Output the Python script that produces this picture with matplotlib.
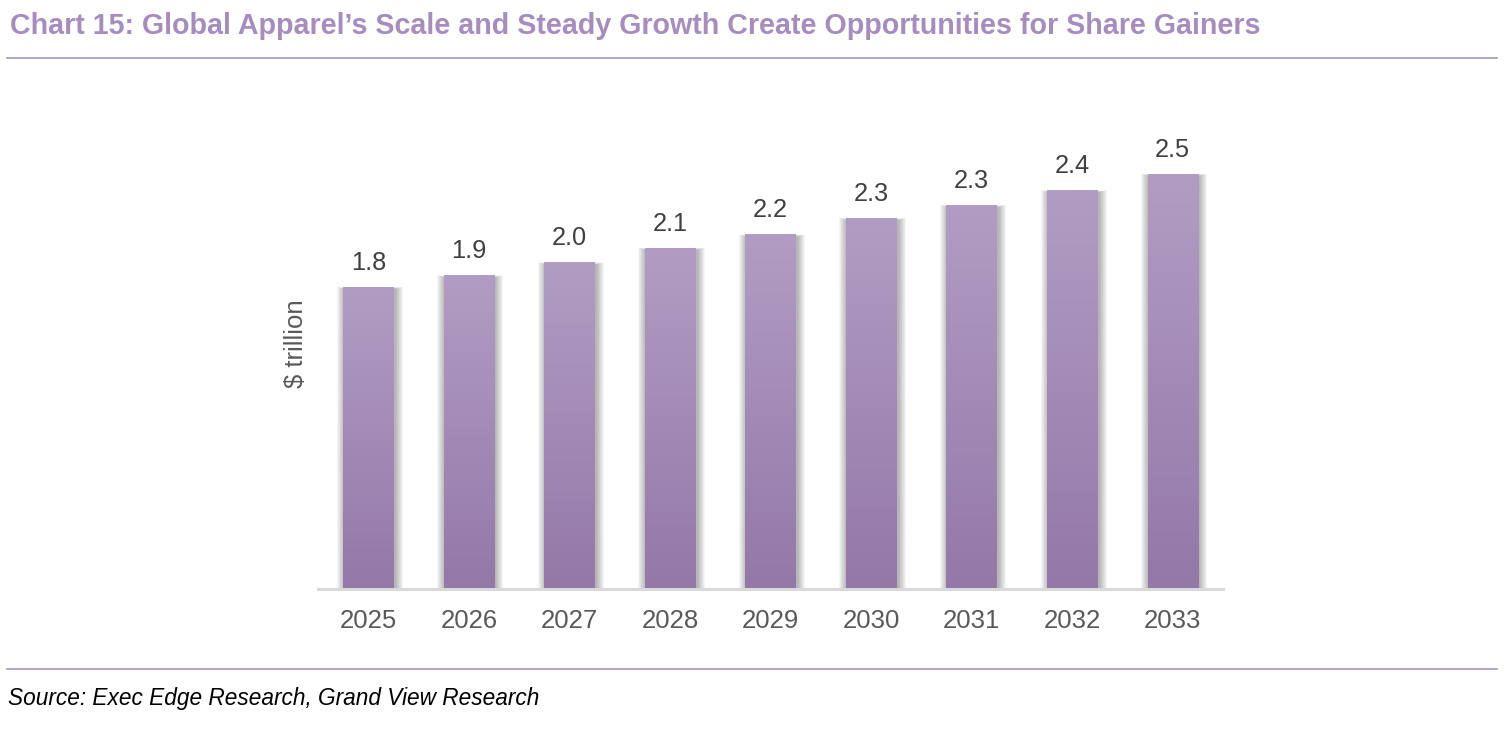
import numpy as np
import matplotlib.pyplot as plt
from matplotlib.colors import LinearSegmentedColormap
from matplotlib.patches import Rectangle

years = ['2025', '2026', '2027', '2028', '2029', '2030', '2031', '2032', '2033']
values = [1.84, 1.91, 1.99, 2.08, 2.16, 2.26, 2.34, 2.43, 2.53]

title = 'Chart 15: Global Apparel\u2019s Scale and Steady Growth Create Opportunities for Share Gainers'
source = 'Source: Exec Edge Research, Grand View Research'
ylabel = '$ trillion'

W, H = 1510, 732
fig = plt.figure(figsize=(W / 100, H / 100), dpi=100)
plt.rcParams['font.family'] = ['Liberation Sans', 'DejaVu Sans']

purple = '#A68CBF'
rule = '#A993BD'

# header / footer
fig.text(10 / W, 1 - 26 / H, title, fontsize=20.6, fontweight='bold',
         color=purple, va='center', ha='left')
fig.add_artist(plt.Line2D([7 / W, 1497 / W], [1 - 58 / H, 1 - 58 / H], color=rule, lw=1.2))
fig.add_artist(plt.Line2D([7 / W, 1497 / W], [1 - 669 / H, 1 - 669 / H], color=rule, lw=1.2))
fig.text(8 / W, 1 - 699 / H, source, fontsize=16.3, style='italic',
         color='black', va='center', ha='left')

# plot area: x from 318 to 1223 px, y from 589 (zero) up
left, right, bottom, top = 318, 1223, 589, 130
ax = fig.add_axes([left / W, 1 - bottom / H, (right - left) / W, (bottom - top) / H])

px_x = (len(years)) / (right - left)
px_y = 2.8 / (bottom - top)

cmap = LinearSegmentedColormap.from_list('bar', ['#9478A8', '#B19DC4'])
grad = np.linspace(0, 1, 256).reshape(-1, 1)
bw = 0.5

for i, v in enumerate(values):
    x0 = i - bw / 2
    # soft shadow
    for k in range(1, 9):
        ax.add_patch(Rectangle((x0 + 1.5 * px_x - k * px_x, 0), bw + 2 * k * px_x, v - 2 * px_y + k * px_y * 0.3,
                               facecolor='black', edgecolor='none', alpha=0.038, zorder=1))
    ax.imshow(grad, cmap=cmap, origin='lower', aspect='auto',
              extent=[x0, x0 + bw, 0, v], zorder=2, interpolation='bilinear')
    ax.annotate(f'{v:.1f}', (i, v), xytext=(0, 9), textcoords='offset points',
                ha='center', va='bottom', fontsize=18.3, color='#404040', zorder=3)

ax.set_xlim(-0.5, len(years) - 0.5)
ax.set_ylim(0, 2.8)
ax.set_xticks(range(len(years)))
ax.set_xticklabels(years, fontsize=18.5, color='#595959')
ax.set_yticks([])
ax.tick_params(axis='x', length=0, pad=14.5)
for s in ['top', 'right', 'left']:
    ax.spines[s].set_visible(False)
ax.spines['bottom'].set_color('#D9D9D9')
ax.spines['bottom'].set_linewidth(2.2)
ax.spines['bottom'].set_zorder(4)

fig.text(296 / W, 1 - 344 / H, ylabel, rotation=90, fontsize=18.5,
         color='#595959', va='center', ha='center')

fig.savefig('out.png', dpi=100, facecolor='white')
